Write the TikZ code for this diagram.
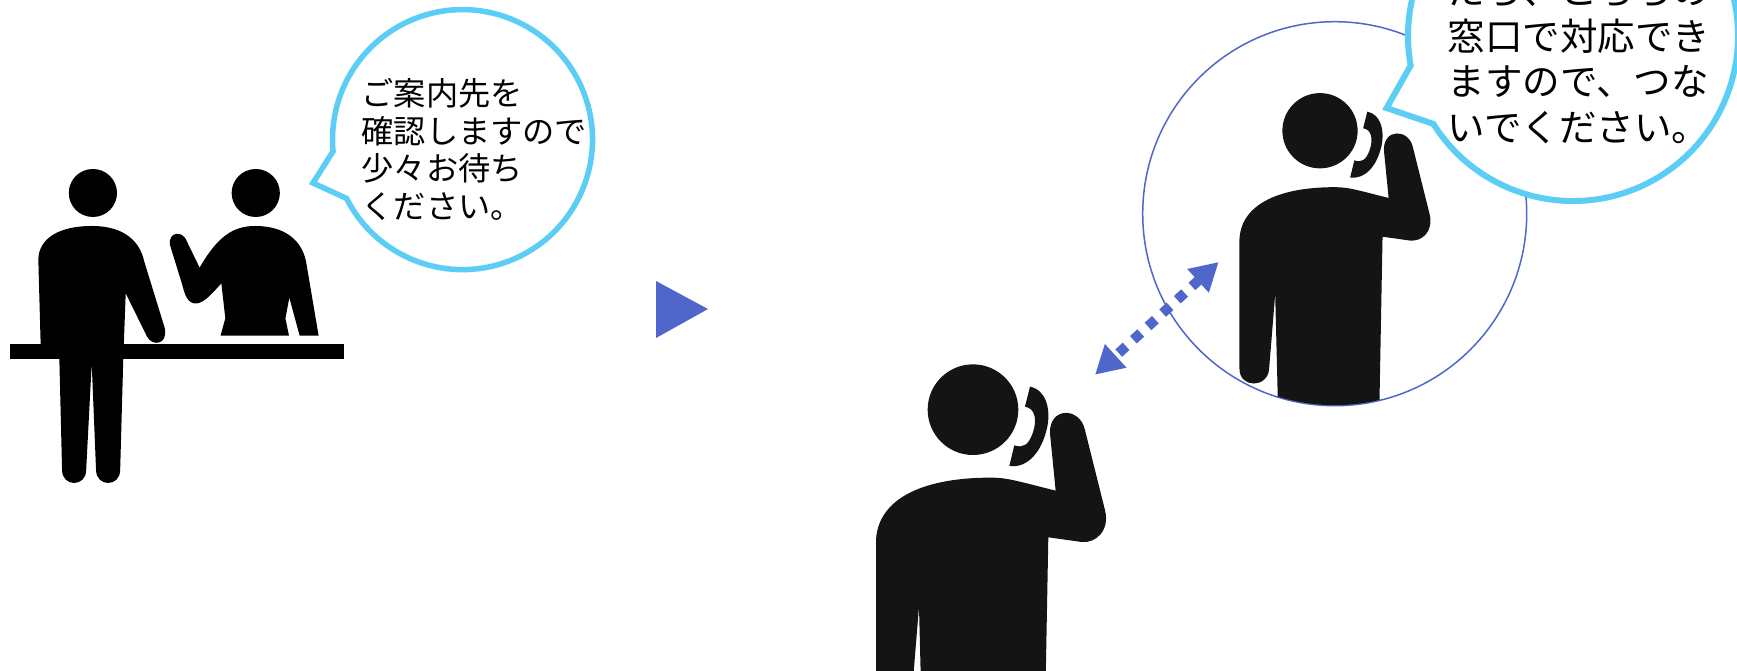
\documentclass[tikz,border=0pt]{standalone}
\usepackage{fontspec}
\setmainfont{Noto Sans CJK JP}
\usetikzlibrary{arrows.meta}
\definecolor{blueline}{HTML}{4F67CB}
\definecolor{skyline}{HTML}{5CCDF5}
\definecolor{figdark}{HTML}{141414}
\newcommand{\callerfigure}{
  (369,209) circle[radius=136]
  (78,1070) -- (78,600) .. controls (85,470) and (230,413) .. (420,413)
  .. controls (470,413) and (490,420) .. (617,452) -- (600,280)
  .. controls (597,200) and (690,200) .. (705,270) -- (765,510)
  .. controls (780,570) and (740,610) .. (695,606) -- (595,592) -- (580,1400) -- (222,1400)
  -- (207,800) -- (185,1070) .. controls (180,1140) and (78,1140) .. (78,1070) -- cycle
  (540,140) .. controls (590,150) and (602,210) .. (592,260)
  .. controls (575,340) and (530,385) .. (478,378) -- (493,316)
  .. controls (520,325) and (535,315) .. (548,280)
  .. controls (562,240) and (556,205) .. (525,200) -- cycle
}
\tikzset{
  bubble/.style={draw=skyline,fill=white,line width=5.5pt,miter limit=10},
  bubbletext/.style={anchor=west,align=left,inner sep=0pt,text=black},
  person/.style={fill=black},
  caller/.style={fill=figdark},
  link/.style={draw=blueline,line width=10pt,dash pattern=on 10pt off 9.8pt,
    {Triangle[length=28pt,width=30pt,fill=blueline]}-{Triangle[length=28pt,width=30pt,fill=blueline]}},
}
\begin{document}
\begin{tikzpicture}[x=1pt,y=-1pt]
\useasboundingbox (0,0) rectangle (1737,670);
\clip (0,0) rectangle (1737,670);
\fill[white] (0,0) rectangle (1737,670);

% reception desk with two people
\begin{scope}[xscale=0.3953,yscale=0.3333]
  \fill[person] (235,579) ellipse[x radius=61,y radius=72];
  \fill[person] (647,579) ellipse[x radius=61,y radius=72];
  \fill[person] (25,1031) rectangle (870,1078);
  \fill[person] (103,1040) -- (97,780) .. controls (97,715) and (150,678) .. (232,678)
    .. controls (320,678) and (355,730) .. (365,785) -- (417,985)
    .. controls (425,1035) and (385,1040) .. (372,1010) -- (318,880) -- (313,1040) -- cycle;
  \fill[person] (150,1070) -- (157,1410) .. controls (157,1462) and (218,1462) .. (218,1410)
    -- (232,1090) -- (243,1410) .. controls (243,1462) and (304,1462) .. (304,1410)
    -- (312,1070) -- cycle;
  \fill[person] (505,803) .. controls (550,710) and (590,678) .. (645,678)
    .. controls (720,678) and (765,720) .. (775,790) -- (806,1007) -- (758,1007)
    -- (732,893) -- (722,955) -- (731,1007) -- (558,1007) -- (570,955) -- (560,850)
    .. controls (530,890) and (510,915) .. (490,910)
    .. controls (470,905) and (465,870) .. (460,850) -- (430,735)
    .. controls (425,692) and (465,692) .. (473,725) -- cycle;
\end{scope}

% first bubble
\coordinate (lc) at (462.5,139.6);
\coordinate (ltip) at (313,183);
\draw[bubble] (ltip) -- ([shift={(153.1:130)}]lc) arc[start angle=153.1,end angle=-185.2,radius=130] -- cycle;
\node[bubbletext,font=\fontsize{32.2}{37.8}\selectfont] (ltext) at (361.5,149.5)
  {ご案内先を\\確認しますので\\少々お待ち\\ください。};

% triangle between the scenes
\fill[blueline] (656,281) -- (708,309) -- (656,338) -- cycle;

% large caller
\begin{scope}[shift={(850,340)},scale=0.3333]
  \fill[caller] \callerfigure;
\end{scope}

% circle with caller
\node[circle,draw=blueline,line width=1.5pt,fill=white,minimum size=384pt,inner sep=0pt] (ring) at (1334.7,213.7) {};
\begin{scope}
  \clip (1334.7,213.7) circle[radius=191.5];
  \begin{scope}[shift={(1217.9,72.9)},scale=0.2767]
    \fill[caller] \callerfigure;
  \end{scope}
\end{scope}

% link
\coordinate (lu) at (1218.7,262);
\coordinate (ld) at (1095,374.7);
\draw[link] (lu) -- (ld);

% second bubble
\coordinate (rc) at (1573,36);
\coordinate (rtip) at (1386.6,108);
\draw[bubble,line width=6pt] (rtip) -- ([shift={(147.8:165)}]rc) arc[start angle=147.8,end angle=-190.3,radius=165] -- cycle;
\node[bubbletext,font=\fontsize{37.5}{45.5}\selectfont] (rtext) at (1447.6,59.5)
  {たら、こちらの\\窓口で対応でき\\ますので、つな\\いでください。};
\end{tikzpicture}
\end{document}
